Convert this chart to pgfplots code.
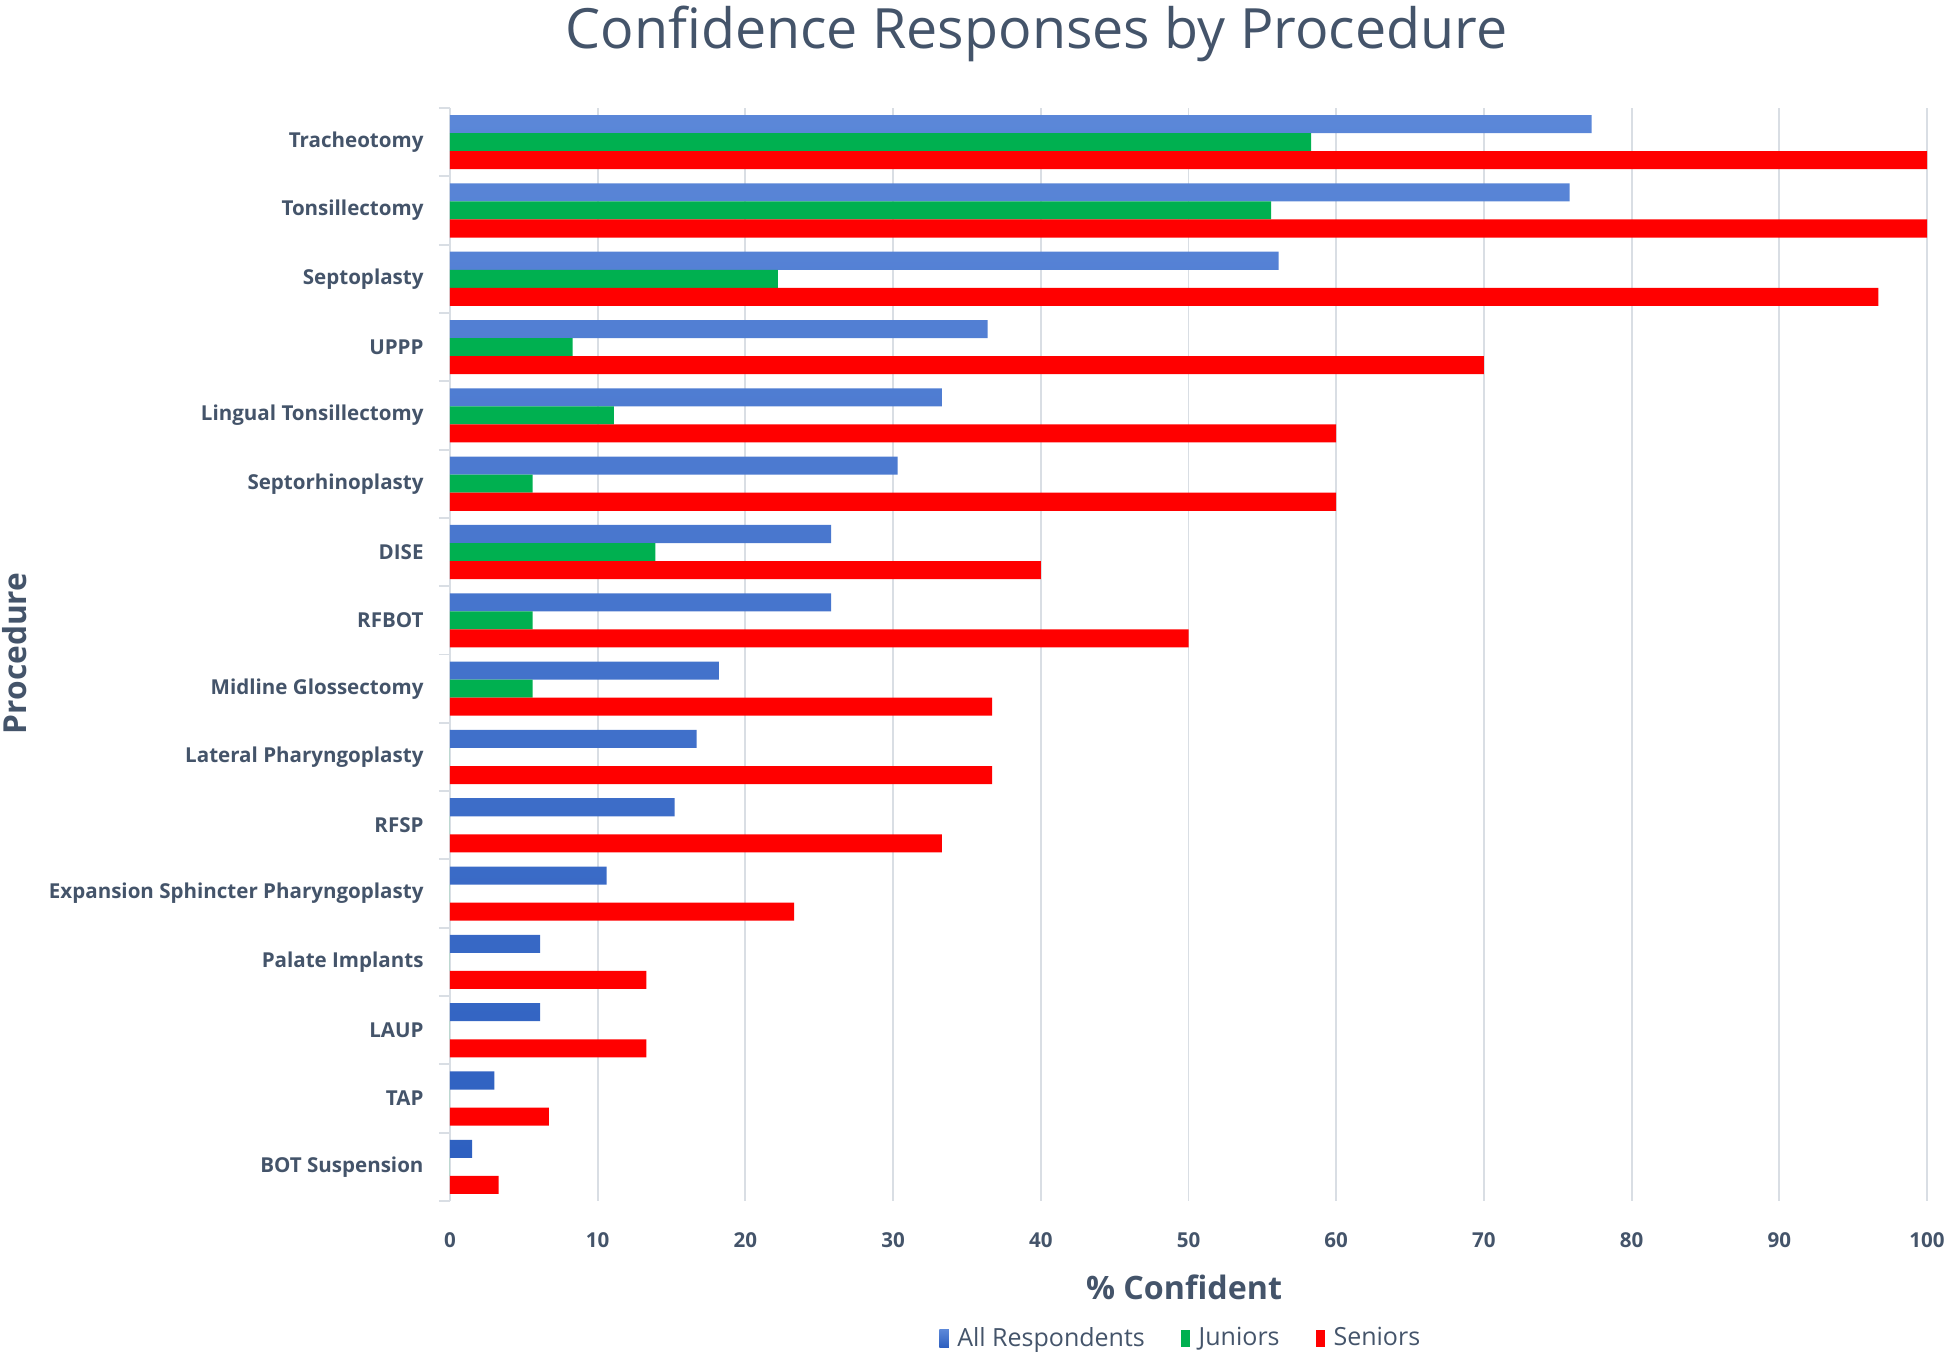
\documentclass[border=0pt]{standalone}
\usepackage{pgfplots}
\pgfplotsset{compat=1.18}
\usepackage{fontspec}
\setmainfont{Open Sans}
\definecolor{txt}{HTML}{44546A}
\definecolor{gridc}{HTML}{D9DEE4}
\definecolor{blueT}{HTML}{5B87D8}
\definecolor{blueB}{HTML}{2E60C0}
\definecolor{grn}{HTML}{00B050}
\definecolor{rd}{HTML}{FF0000}

\pgfplotstableread{
y  all   jun   sen
0  77.3  58.3  100
1  75.8  55.6  100
2  56.1  22.2  96.7
3  36.4  8.3   70
4  33.3  11.1  60
5  30.3  5.6   60
6  25.8  13.9  40
7  25.8  5.6   50
8  18.2  5.6   36.7
9  16.7  0     36.7
10 15.2  0     33.3
11 10.6  0     23.3
12 6.1   0     13.3
13 6.1   0     13.3
14 3.0   0     6.7
15 1.5   0     3.3
}\conf

\begin{document}
\begin{tikzpicture}
% page frame: 1946 x 1354 px at 0.36pt per px, plot area lower left at origin
\path[use as bounding box] (-162pt,-55.08pt) rectangle (538.56pt,432.36pt);
\begin{axis}[
    scale only axis,
    width=531.72pt, height=393.48pt,
    xbar=0pt, bar width=0.264,
    xmin=0, xmax=100,
    ymin=-0.5, ymax=15.5,
    y dir=reverse,
    xtick={0,10,...,100},
    ytick={0,...,15},
    yticklabels={Tracheotomy,Tonsillectomy,Septoplasty,UPPP,Lingual Tonsillectomy,Septorhinoplasty,DISE,RFBOT,Midline Glossectomy,Lateral Pharyngoplasty,RFSP,Expansion Sphincter Pharyngoplasty,Palate Implants,LAUP,TAP,BOT Suspension},
    minor ytick={-0.5,0.5,...,15.5},
    major tick length=0pt,
    minor tick length=4pt,
    tick align=outside,
    ytick pos=left, xtick pos=bottom,
    minor tick style={gridc, line width=0.7pt},
    axis x line*=bottom,
    axis y line*=left,
    x axis line style={draw=none},
    y axis line style={gridc, line width=0.7pt},
    xmajorgrids,
    major grid style={gridc, line width=0.7pt},
    /pgf/number format/assume math mode=true,
    ticklabel style={font=\fontsize{7.4}{9}\selectfont\bfseries, text=txt},
    yticklabel style={xshift=-6pt},
    xticklabel style={yshift=-8pt},
    title={Confidence Responses by Procedure},
    title style={at={(axis description cs:0.397,1.094)}, anchor=north, yshift=-6pt,
        inner sep=0pt, font=\fontsize{20}{24}\selectfont, text=txt},
    xlabel={\% Confident},
    xlabel style={at={(axis description cs:0.497,-0.0787)}, anchor=center,
        font=\fontsize{11.6}{14}\selectfont\bfseries, text=txt},
    ylabel={Procedure},
    ylabel style={at={(axis description cs:-0.2945,0.501)}, anchor=center, rotate=0,
        font=\fontsize{11.4}{14}\selectfont\bfseries, text=txt},
    legend style={at={(axis description cs:0.496,-0.126)}, anchor=center,
        draw=none, fill=none, font=\fontsize{9}{11}\selectfont, text=txt,
        legend columns=-1,
        /tikz/every odd column/.append style={column sep=1pt},
        /tikz/every even column/.append style={column sep=11pt}},
    legend image code/.code={\path[#1] (0pt,-3pt) rectangle (3.4pt,3.2pt);},
]
\addplot[draw=none, top color=blueT, bottom color=blueB] table[x=all, y=y] {\conf};
\addplot[draw=none, fill=grn] table[x=jun, y=y] {\conf};
\addplot[draw=none, fill=rd] table[x=sen, y=y] {\conf};
\legend{All Respondents, Juniors, Seniors}
\end{axis}
\end{tikzpicture}
\end{document}
